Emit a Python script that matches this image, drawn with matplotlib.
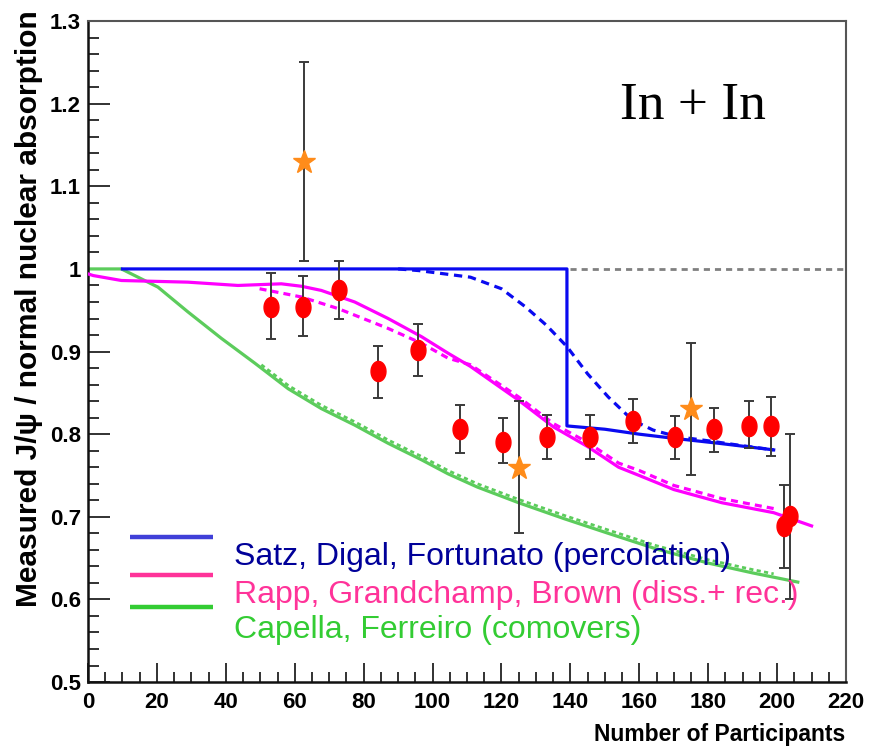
import numpy as np
import matplotlib
matplotlib.use("Agg")
import matplotlib.pyplot as plt
from matplotlib.path import Path
from matplotlib.ticker import MultipleLocator

# measured J/psi suppression, In + In
npart = [53.1, 62.3, 72.8, 84.1, 95.9, 108.0, 120.4, 133.1, 145.7, 158.1,
         170.5, 181.8, 191.7, 198.3, 202.0, 203.8]
ratio = [0.954, 0.954, 0.975, 0.877, 0.902, 0.806, 0.791, 0.796, 0.796, 0.816,
         0.796, 0.806, 0.810, 0.810, 0.689, 0.701]
err_lo = [0.039, 0.035, 0.035, 0.033, 0.032, 0.029, 0.026, 0.026, 0.026, 0.027,
          0.026, 0.028, 0.027, 0.036, 0.051, 0.101]
err_hi = [0.041, 0.037, 0.034, 0.030, 0.031, 0.029, 0.028, 0.027, 0.027, 0.027,
          0.026, 0.026, 0.030, 0.035, 0.050, 0.099]

star_npart = [62.7, 125.0, 175.0]
star_ratio = [1.129, 0.759, 0.830]
star_lo = [0.119, 0.079, 0.080]
star_hi = [0.121, 0.081, 0.080]

# percolation (Satz, Digal, Fortunato)
satz_x = [10, 139, 139, 150, 160, 170, 183, 199]
satz_y = [1.0, 1.0, 0.810, 0.806, 0.800, 0.795, 0.789, 0.781]
satz_dx = [90, 96, 111, 120, 127, 133, 139, 145, 151, 158, 164, 171, 180, 190, 199]
satz_dy = [1.0, 0.998, 0.990, 0.976, 0.954, 0.932, 0.906, 0.873, 0.845, 0.817,
           0.805, 0.797, 0.792, 0.786, 0.781]

# dissociation + recombination (Rapp, Grandchamp, Brown)
rapp_x = [0, 1.5, 9.7, 29, 43.5, 56.1, 62, 67.7, 77.4, 87.1, 96.8, 104.5, 111,
          125, 135, 145, 154, 160, 170, 184, 199, 210]
rapp_y = [0.994, 0.992, 0.986, 0.984, 0.980, 0.982, 0.979, 0.974, 0.960, 0.940,
          0.918, 0.898, 0.882, 0.841, 0.809, 0.785, 0.760, 0.750, 0.733, 0.717,
          0.705, 0.689]
rapp_dx = [49.8, 62, 72.6, 87.1, 96.8, 104.5, 111, 125, 135, 145, 154, 160, 170,
           184, 199]
rapp_dy = [0.976, 0.966, 0.952, 0.928, 0.910, 0.892, 0.884, 0.845, 0.813, 0.790,
           0.765, 0.756, 0.738, 0.722, 0.710]

# comovers (Capella, Ferreiro)
cap_x = [0, 9.7, 20.3, 29, 38.7, 48.4, 58.1, 67.7, 77.4, 87.1, 96.8, 104.5, 113,
         125, 138, 151, 165, 180, 193, 206]
cap_y = [1.0, 1.0, 0.978, 0.948, 0.916, 0.886, 0.855, 0.831, 0.811, 0.789, 0.769,
         0.752, 0.736, 0.717, 0.698, 0.680, 0.661, 0.644, 0.632, 0.621]
cap_dx = [50.3, 58.1, 67.7, 77.4, 87.1, 96.8, 104.5, 113, 125, 138, 151, 165,
          180, 193, 199]
cap_dy = [0.884, 0.859, 0.835, 0.815, 0.793, 0.773, 0.756, 0.740, 0.721, 0.702,
          0.684, 0.665, 0.648, 0.636, 0.631]

legend_labels = ["Satz, Digal, Fortunato (percolation)",
                 "Rapp, Grandchamp, Brown (diss.+ rec.)",
                 "Capella, Ferreiro (comovers)"]
legend_line_colors = ["#4040d8", "#ff3399", "#33cc33"]
legend_text_colors = ["#000099", "#ff3399", "#33cc33"]

plt.rcParams["font.family"] = ["Liberation Sans", "DejaVu Sans"]

fig = plt.figure(figsize=(8.8, 7.52), dpi=100)
ax = fig.add_axes([0.1, 0.093, 0.8614, 0.879])

ax.plot([140, 220], [1.0, 1.0], color="#808080", lw=2, ls=(0, (2.2, 1.8)), zorder=1)

ax.plot(cap_x, cap_y, color="#5ccc5c", lw=2.3, zorder=2)
ax.plot(cap_dx, cap_dy, color="#5ccc5c", lw=2.0, ls=(0, (1.5, 1.2)), zorder=2)
ax.plot(rapp_x, rapp_y, color="#ff00ff", lw=2.3, zorder=3)
ax.plot(rapp_dx, rapp_dy, color="#ff00ff", lw=2.3, ls=(0, (2.2, 1.6)), zorder=3)
ax.plot(satz_x, satz_y, color="#0a0af0", lw=2.3, zorder=4)
ax.plot(satz_dx, satz_dy, color="#0a0af0", lw=2.3, ls=(0, (2.6, 1.8)), zorder=4)

# slightly tall ellipse for the data markers
t = np.linspace(0, 2 * np.pi, 40)
ellipse = Path(np.column_stack([0.74 * np.cos(t), np.sin(t)]), closed=True)

ax.errorbar(star_npart, star_ratio, yerr=[star_lo, star_hi], fmt="none",
            ecolor="#3a3a3a", elinewidth=1.4, capsize=3.5, capthick=1.4, zorder=5)
ax.errorbar(npart, ratio, yerr=[err_lo, err_hi], fmt="none",
            ecolor="#3a3a3a", elinewidth=1.4, capsize=3.5, capthick=1.4, zorder=5)
ax.plot(npart, ratio, ls="none", marker=ellipse, ms=14.5, color="#ff0000",
        mec="#ff0000", zorder=6)
ax.plot(star_npart, star_ratio, ls="none", marker="*", ms=17, color="#ff8c1a",
        mec="#ff8c1a", zorder=6)

# legend drawn by hand
leg_y = [0.219, 0.162, 0.113]
txt_y = [0.177, 0.120, 0.066]
for ly, ty, lab, lc, tc in zip(leg_y, txt_y, legend_labels,
                               legend_line_colors, legend_text_colors):
    ax.plot([0.055, 0.165], [ly, ly], transform=ax.transAxes, color=lc, lw=3.2,
            solid_capstyle="butt", zorder=7)
    ax.text(0.193, ty, lab, transform=ax.transAxes, color=tc, fontsize=23,
            va="baseline", ha="left", zorder=7)

ax.text(0.702, 0.852, "In + In", transform=ax.transAxes, fontsize=38.5,
        family=["Liberation Serif", "DejaVu Serif"], va="baseline", ha="left")

ax.set_xlim(0, 220)
ax.set_ylim(0.5, 1.3)
ax.xaxis.set_major_locator(MultipleLocator(20))
ax.xaxis.set_minor_locator(MultipleLocator(5))
ax.yaxis.set_major_locator(MultipleLocator(0.1))
ax.yaxis.set_minor_locator(MultipleLocator(0.02))
ax.yaxis.set_major_formatter(lambda v, p: "1" if abs(v - 1) < 1e-9 else f"{v:.1f}")
ax.tick_params(which="both", direction="in", top=False, right=False, width=1.3,
               color="#222222")
ax.tick_params(which="major", axis="y", length=16)
ax.tick_params(which="minor", axis="y", length=8)
ax.tick_params(which="major", axis="x", length=14)
ax.tick_params(which="minor", axis="x", length=7)
ax.tick_params(axis="both", labelsize=16, pad=5)
for lab in ax.get_xticklabels() + ax.get_yticklabels():
    lab.set_fontweight("bold")
ax.tick_params(axis="x", pad=7)

for side in ["left", "bottom"]:
    ax.spines[side].set_linewidth(1.8)
    ax.spines[side].set_color("#111111")
for side in ["right", "top"]:
    ax.spines[side].set_linewidth(1.5)
    ax.spines[side].set_color("#555555")

fig.text(0.033, 0.987, "Measured J/\u03c8 / normal nuclear absorption", rotation=90,
         fontsize=21.5, fontweight="bold", ha="center", va="top")
fig.text(0.960, 0.023, "Number of Participants", fontsize=16.5, fontweight="bold",
         ha="right", va="center")

fig.savefig("out.png", dpi=100, facecolor="white")
